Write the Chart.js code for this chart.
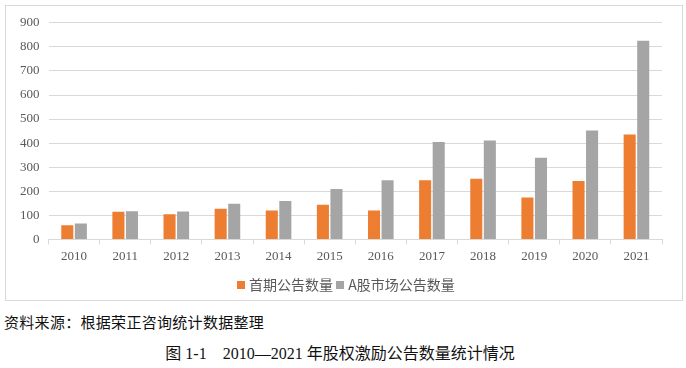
<!DOCTYPE html>
<html>
<head>
<meta charset="utf-8">
<script src="https://cdn.jsdelivr.net/npm/chart.js@4.4.0/dist/chart.umd.min.js"></script>
<style>
  body { margin: 0; background: #fff; width: 686px; height: 368px; position: relative; overflow: hidden; }
  #box { position: absolute; left: 5px; top: 5px; width: 676px; height: 294px; border: 1px solid #d9d9d9; }
  #box canvas { display: block; }
  #legend { position: absolute; left: 237px; top: 274px; font: 14px "Noto Sans CJK SC", sans-serif; color: #595959; white-space: nowrap; }
  #legend span.sw { display: inline-block; width: 8px; height: 8px; margin-right: 4px; vertical-align: 1px; }
  #source { position: absolute; left: 4px; top: 311px; font: 15px "Noto Sans CJK SC", sans-serif; letter-spacing: 0.3px; color: #111; }
  #caption { position: absolute; left: 0; width: 680px; top: 340px; text-align: center; font: 16px "Liberation Serif", "Noto Sans CJK SC", serif; color: #111; }
</style>
</head>
<body>
<div id="box"><canvas id="chart" width="676" height="294"></canvas></div>
<div id="legend"><span class="sw" style="background:#ed7d31"></span>首期公告数量 <span class="sw" style="background:#a5a5a5"></span>A股市场公告数量</div>
<div id="source">资料来源：根据荣正咨询统计数据整理</div>
<div id="caption">图 1-1&nbsp;&nbsp;&nbsp;&nbsp;2010—2021 年股权激励公告数量统计情况</div>
<script>
// categories and series
const years = ['2010', '2011', '2012', '2013', '2014', '2015', '2016', '2017', '2018', '2019', '2020', '2021'];
const firstNotices = [59, 115, 104, 127, 120, 144, 120, 246, 252, 174, 243, 436];
const marketNotices = [66, 117, 116, 148, 160, 209, 246, 405, 411, 339, 452, 825];
const seriesNames = ['首期公告数量', 'A股市场公告数量'];

const ctx = document.getElementById('chart').getContext('2d');

new Chart(ctx, {
    type: 'bar',
    data: {
        labels: years,
        datasets: [{
            label: seriesNames[0],
            data: firstNotices,
            backgroundColor: '#ed7d31'
        }, {
            label: seriesNames[1],
            data: marketNotices,
            backgroundColor: '#a5a5a5'
        }]
    },
    options: {
        responsive: false,
        animation: false,
        layout: {
            padding: { left: 5, right: 20, top: 10, bottom: 32 }
        },
        datasets: {
            bar: {
                categoryPercentage: 0.53,
                barPercentage: 0.89
            }
        },
        scales: {
            y: {
                min: 0,
                max: 900,
                ticks: {
                    stepSize: 100,
                    padding: 9,
                    color: '#595959',
                    font: { family: 'Liberation Serif', size: 13 }
                },
                grid: {
                    color: '#d9d9d9',
                    drawTicks: false
                },
                border: { display: false }
            },
            x: {
                ticks: {
                    padding: 4,
                    color: '#595959',
                    font: { family: 'Liberation Serif', size: 13 }
                },
                grid: {
                    offset: true,
                    drawOnChartArea: false,
                    drawTicks: true,
                    tickLength: 5,
                    color: '#d9d9d9'
                },
                border: { color: '#d9d9d9' }
            }
        },
        plugins: {
            legend: { display: false },
            tooltip: { enabled: false }
        }
    }
});
</script>
</body>
</html>
